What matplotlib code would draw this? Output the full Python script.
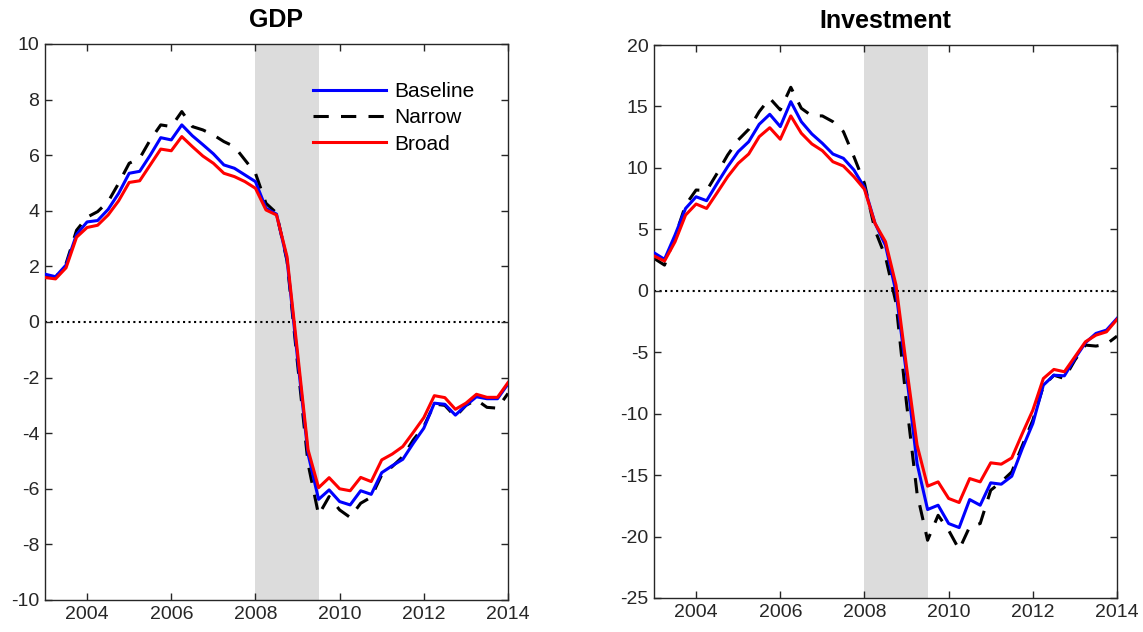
import numpy as np
import matplotlib
matplotlib.use('Agg')
import matplotlib.pyplot as plt

plt.rcParams['font.family'] = ['Liberation Sans', 'DejaVu Sans']
plt.rcParams['axes.unicode_minus'] = False

# quarterly dates 2003Q1 .. 2014Q1
dates = 2003 + 0.25 * np.arange(45)

gdp_baseline = [1.72, 1.63, 2.05, 3.15, 3.6, 3.65, 4.05, 4.63, 5.35, 5.42, 6.0, 6.63, 6.55, 7.09,
                6.7, 6.38, 6.05, 5.65, 5.53, 5.29, 5.05, 4.09, 3.88, 2.25, -1.3, -4.75, -6.38,
                -6.04, -6.46, -6.58, -6.07, -6.2, -5.42, -5.17, -4.94, -4.36, -3.82, -2.92,
                -2.96, -3.35, -3.0, -2.69, -2.76, -2.76, -2.23]
gdp_narrow = [1.65, 1.6, 2.1, 3.3, 3.77, 3.97, 4.33, 4.99, 5.71, 5.89, 6.55, 7.09, 7.03, 7.57,
              7.03, 6.91, 6.73, 6.49, 6.31, 5.83, 5.35, 4.27, 3.92, 2.2, -1.5, -5.1, -6.94,
              -6.28, -6.76, -7.03, -6.52, -6.3, -5.5, -5.2, -4.84, -4.24, -3.76, -2.95,
              -3.0, -3.41, -3.0, -2.8, -3.07, -3.1, -2.57]
gdp_broad = [1.6, 1.55, 1.95, 3.05, 3.4, 3.48, 3.85, 4.36, 5.02, 5.08, 5.65, 6.22, 6.16, 6.67,
             6.31, 5.97, 5.71, 5.35, 5.23, 5.05, 4.81, 4.03, 3.85, 2.35, -1.1, -4.6, -5.96,
             -5.6, -6.0, -6.07, -5.59, -5.74, -4.96, -4.75, -4.48, -3.97, -3.44, -2.65,
             -2.72, -3.14, -2.92, -2.6, -2.71, -2.71, -2.18]

inv_baseline = [3.09, 2.56, 4.54, 6.7, 7.65, 7.33, 8.74, 10.1, 11.32, 12.13, 13.55, 14.36, 13.36,
                15.39, 13.76, 12.76, 12.0, 11.13, 10.78, 9.83, 8.4, 5.5, 3.7, -0.1, -6.8,
                -14.06, -17.8, -17.45, -18.94, -19.27, -16.99, -17.45, -15.63, -15.74, -15.09,
                -12.84, -10.8, -7.68, -6.87, -6.92, -5.51, -4.23, -3.47, -3.2, -2.25]
inv_narrow = [2.64, 2.09, 4.4, 6.98, 8.2, 8.15, 9.56, 11.05, 12.27, 13.14, 14.58, 15.67, 14.72,
              16.56, 14.85, 14.23, 14.23, 13.76, 12.95, 10.91, 8.74, 4.94, 2.77, -1.0, -9.17,
              -16.5, -20.3, -18.27, -19.49, -21.06, -19.2, -18.94, -16.23, -15.55, -14.74,
              -12.6, -10.53, -7.76, -6.87, -7.14, -5.64, -4.42, -4.5, -4.34, -3.69]
inv_broad = [2.83, 2.42, 3.99, 6.16, 7.06, 6.7, 7.98, 9.28, 10.37, 11.13, 12.54, 13.27, 12.33,
             14.23, 12.82, 11.95, 11.4, 10.5, 10.15, 9.28, 8.26, 5.49, 3.99, 0.46, -6.2,
             -12.56, -15.9, -15.55, -16.9, -17.23, -15.28, -15.55, -14.0, -14.11, -13.6,
             -11.62, -9.72, -7.14, -6.4, -6.59, -5.37, -4.15, -3.61, -3.34, -2.33]

recession = (2008, 2009.5)
ink = '#262626'

fig = plt.figure(figsize=(11.43, 6.32), dpi=100)
ax1 = fig.add_axes([45 / 1143, 32 / 632, 463 / 1143, 556 / 632])
ax2 = fig.add_axes([654 / 1143, 34 / 632, 463 / 1143, 553 / 632])


def draw_panel(ax, title, base, narrow, broad, ylim, yticks):
    ax.axvspan(recession[0], recession[1], color='#dcdcdc', lw=0, zorder=0)
    ax.axhline(0, color='black', ls=':', lw=1.5, zorder=1)
    ax.plot(dates, base, color='blue', lw=2.2, label='Baseline', zorder=3)
    ax.plot(dates, narrow, color='black', lw=2.2, ls=(0, (5, 4)), label='Narrow', zorder=2)
    ax.plot(dates, broad, color='red', lw=2.2, label='Broad', zorder=4)
    ax.set_xlim(2003, 2014)
    ax.set_ylim(*ylim)
    ax.set_xticks([2004, 2006, 2008, 2010, 2012, 2014])
    ax.set_yticks(yticks)
    ax.tick_params(direction='in', top=True, right=True, labelsize=14, colors=ink,
                   length=5, width=1, pad=4)
    for sp in ax.spines.values():
        sp.set_color(ink)
        sp.set_linewidth(1)
    ax.set_title(title, fontsize=18, fontweight='bold', pad=12)


draw_panel(ax1, 'GDP', gdp_baseline, gdp_narrow, gdp_broad, (-10, 10), np.arange(-10, 11, 2))
draw_panel(ax2, 'Investment', inv_baseline, inv_narrow, inv_broad, (-25, 20), np.arange(-25, 21, 5))

ax1.legend(loc='upper right', bbox_to_anchor=(0.96, 0.958), frameon=False, fontsize=15,
           handlelength=3.5, handletextpad=0.4, labelspacing=0.35, borderpad=0.2)

fig.savefig('out.png', dpi=100)
